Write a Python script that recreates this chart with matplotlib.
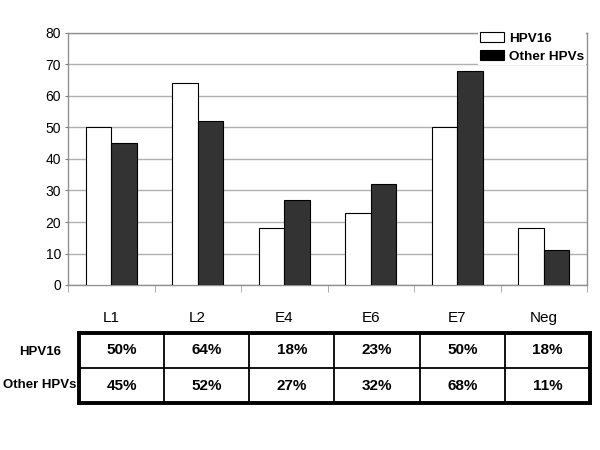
import matplotlib.pyplot as plt
import numpy as np

plt.rcParams['font.family'] = ['Liberation Sans', 'DejaVu Sans']

categories = ['L1', 'L2', 'E4', 'E6', 'E7', 'Neg']
hpv16 = [50, 64, 18, 23, 50, 18]
other_hpvs = [45, 52, 27, 32, 68, 11]
series_names = ['HPV16', 'Other HPVs']

fig = plt.figure(figsize=(6, 4.5), dpi=100)

# bar chart
ax = fig.add_axes([68 / 600, 1 - 285 / 450, (587 - 68) / 600, (285 - 33) / 450])
x = np.arange(len(categories))
w = 0.295
ax.bar(x - w / 2, hpv16, w, color='white', edgecolor='black', linewidth=0.8,
       label=series_names[0], zorder=3)
ax.bar(x + w / 2, other_hpvs, w, color='#333333', edgecolor='black', linewidth=0.8,
       label=series_names[1], zorder=3)

ax.set_xlim(-0.5, len(categories) - 0.5)
ax.set_ylim(0, 80)
ax.set_yticks(range(0, 81, 10))
ax.yaxis.grid(True, color='#b0b0b0', linewidth=1, zorder=0)
ax.tick_params(axis='y', length=2, color='#808080', labelsize=10, pad=3)

ax.set_xticks(x)
ax.set_xticklabels(categories)
ax.tick_params(axis='x', which='major', length=0, labelsize=11, pad=19)
ax.set_xticks(np.arange(-0.5, len(categories), 1), minor=True)
ax.tick_params(axis='x', which='minor', length=5, color='#a0a0a0', direction='out')

for s in ax.spines.values():
    s.set_color('#909090')
    s.set_linewidth(1)

leg = ax.legend(loc='upper left', bbox_to_anchor=(478 / 600, 1 - 30 / 450),
                bbox_transform=fig.transFigure, frameon=True, fancybox=False,
                facecolor='white', edgecolor='none', framealpha=1,
                prop={'weight': 'bold', 'size': 9.7}, borderpad=0.15,
                borderaxespad=0, handlelength=1.75, handleheight=0.75,
                handletextpad=0.4, labelspacing=0.42)
leg.legend_handles[1].set_facecolor('black')

# data table below
tb = fig.add_axes([79 / 600, 1 - 403 / 450, (590 - 79) / 600, (403 - 333) / 450])
tb.set_xlim(0, len(categories))
tb.set_ylim(0, 2)
tb.set_xticks([])
tb.set_yticks([])
for s in tb.spines.values():
    s.set_linewidth(2.8)
    s.set_color('black')
for i in range(1, len(categories)):
    tb.axvline(i, color='black', linewidth=1.3)
tb.axhline(1, color='black', linewidth=1.3)

rows = [hpv16, other_hpvs]
for r, vals in enumerate(rows):
    yc = 1.5 - r
    for i, v in enumerate(vals):
        tb.text(i + 0.5, yc, f'{v}%', ha='center', va='center',
                fontsize=11, fontweight='bold')
    fig.text(40 / 600, 1 - (352 + 33 * r) / 450, series_names[r], ha='center',
             va='center', fontsize=9.5, fontweight='bold')

fig.savefig('out.png', dpi=100)
